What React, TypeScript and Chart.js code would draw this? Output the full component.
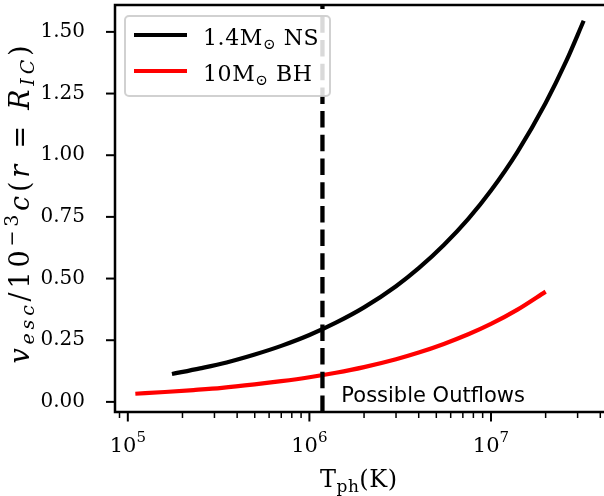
import React, { useEffect, useRef } from 'react';
import { Chart, registerables } from 'chart.js';

Chart.register(...registerables);

// ---- data ----
const nsLabel = '1.4M⊙ NS';
const nsT = [1.75e5, 2.5e5, 3.5e5, 5e5, 7e5, 1e6, 1.4e6, 2e6, 3e6, 4e6, 5.5e6, 7.5e6, 1e7, 1.4e7, 2e7, 2.6e7, 3.24e7];
const nsV = [0.113, 0.136, 0.16, 0.192, 0.227, 0.271, 0.321, 0.383, 0.469, 0.542, 0.636, 0.742, 0.857, 1.014, 1.212, 1.382, 1.545];

const bhLabel = '10M⊙ BH';
const bhT = [1.1e5, 1.6e5, 2.3e5, 3.3e5, 5e5, 7e5, 1e6, 1.4e6, 2e6, 3e6, 4e6, 5.5e6, 7.5e6, 1e7, 1.4e7, 2e7];
const bhV = [0.033, 0.04, 0.048, 0.057, 0.071, 0.084, 0.1, 0.118, 0.141, 0.173, 0.2, 0.235, 0.274, 0.316, 0.374, 0.447];

const outflowT = 1.18e6;
const annotText = 'Possible Outflows';
const annotT = 1.5e6;
const annotV = 0.0;

const xMin = 8.5e4;
const xMax = 4.3e7;
const yMin = -0.041;
const yMax = 1.609;
const yTicks = [0, 0.25, 0.5, 0.75, 1.0, 1.25, 1.5];
const xMajorExps = [5, 6, 7];
const xMinorMantissas = [2, 3, 4, 5, 6, 7, 8, 9];
const xMinorExps = [4, 5, 6, 7];

const legendItems = [
  { pre: '1.4M', sub: '⊙', post: ' NS', color: '#000000' },
  { pre: '10M', sub: '⊙', post: ' BH', color: '#ff0000' },
];

const SERIF = '"DejaVu Serif", serif';

type Piece = { t: string; s: number; it?: boolean; dy?: number };

function fontStr(size: number, italic?: boolean) {
  return `${italic ? 'italic ' : ''}${size}px ${SERIF}`;
}

function richWidth(ctx: CanvasRenderingContext2D, pieces: Piece[], spacing: number) {
  let w = 0;
  let n = 0;
  for (const p of pieces) {
    ctx.font = fontStr(p.s, p.it);
    for (const ch of p.t) {
      w += ctx.measureText(ch).width;
      n++;
    }
  }
  return w + spacing * (n - 1);
}

function countChars(pieces: Piece[]) {
  let n = 0;
  for (const p of pieces) n += [...p.t].length;
  return n;
}

function drawRich(ctx: CanvasRenderingContext2D, pieces: Piece[], x: number, y: number, spacing: number) {
  let cx = x;
  for (const p of pieces) {
    ctx.font = fontStr(p.s, p.it);
    for (const ch of p.t) {
      ctx.fillText(ch, cx, y + (p.dy || 0));
      cx += ctx.measureText(ch).width + spacing;
    }
  }
}

const decorPlugin = {
  id: 'decor',
  afterDatasetsDraw(chart: any) {
    const { ctx, chartArea: a, scales } = chart;
    const xs = scales.x;
    const ys = scales.y;
    ctx.save();
    ctx.fillStyle = '#000';
    ctx.textAlign = 'left';
    ctx.textBaseline = 'alphabetic';

    // annotation
    ctx.font = '21px "DejaVu Sans", sans-serif';
    ctx.fillText(annotText, xs.getPixelForValue(annotT), ys.getPixelForValue(annotV));

    // legend
    const bx = a.left + 10;
    const by = a.top + 11;
    const bw = 205;
    const bh = 80;
    ctx.beginPath();
    ctx.roundRect(bx, by, bw, bh, 4);
    ctx.fillStyle = 'rgba(255,255,255,0.85)';
    ctx.fill();
    ctx.lineWidth = 2;
    ctx.strokeStyle = 'rgba(204,204,204,0.9)';
    ctx.stroke();
    legendItems.forEach((it, i) => {
      const ry = by + 19 + i * 36;
      ctx.beginPath();
      ctx.moveTo(bx + 9, ry);
      ctx.lineTo(bx + 62, ry);
      ctx.strokeStyle = it.color;
      ctx.lineWidth = 4;
      ctx.lineCap = 'butt';
      ctx.stroke();
      ctx.fillStyle = '#000';
      drawRich(
        ctx,
        [
          { t: it.pre, s: 22 },
          { t: it.sub, s: 15, dy: 4 },
          { t: it.post, s: 22 },
        ],
        bx + 78,
        ry + 10,
        0.6
      );
    });

    // frame
    ctx.strokeStyle = '#000';
    ctx.lineWidth = 2.5;
    ctx.strokeRect(a.left, a.top, a.right - a.left, a.bottom - a.top);

    // y ticks
    ctx.lineWidth = 2;
    for (const v of yTicks) {
      const py = ys.getPixelForValue(v);
      ctx.beginPath();
      ctx.moveTo(a.left, py);
      ctx.lineTo(a.left - 9, py);
      ctx.stroke();
    }

    // x minor ticks
    ctx.lineWidth = 1.5;
    for (const e of xMinorExps) {
      for (const m of xMinorMantissas) {
        const v = m * Math.pow(10, e);
        if (v < xMin || v > xMax) continue;
        const px = xs.getPixelForValue(v);
        ctx.beginPath();
        ctx.moveTo(px, a.bottom);
        ctx.lineTo(px, a.bottom + 6);
        ctx.stroke();
      }
    }
    // x major ticks + labels
    ctx.lineWidth = 2;
    for (const e of xMajorExps) {
      const px = xs.getPixelForValue(Math.pow(10, e));
      ctx.beginPath();
      ctx.moveTo(px, a.bottom);
      ctx.lineTo(px, a.bottom + 9.5);
      ctx.stroke();
      const pieces: Piece[] = [
        { t: '10', s: 21 },
        { t: String(e), s: 15, dy: -10 },
      ];
      const w = richWidth(ctx, pieces, 0);
      drawRich(ctx, pieces, px - w / 2, a.bottom + 40, 0);
    }

    // x title
    const xt: Piece[] = [
      { t: 'T', s: 24 },
      { t: 'ph', s: 17, dy: 5 },
      { t: '(K)', s: 24 },
    ];
    const xtw = richWidth(ctx, xt, 0.5);
    drawRich(ctx, xt, (a.left + a.right) / 2 - xtw / 2 - 2, a.bottom + 75, 0.5);

    // y title (rotated)
    const yt: Piece[] = [
      { t: 'v', s: 27, it: true },
      { t: 'esc', s: 19, it: true, dy: 5 },
      { t: '/10', s: 27 },
      { t: '−3', s: 19, dy: -11 },
      { t: 'c', s: 27, it: true },
      { t: '(', s: 27 },
      { t: 'r', s: 27, it: true },
      { t: ' = ', s: 27 },
      { t: 'R', s: 27, it: true },
      { t: 'IC', s: 19, it: true, dy: 5 },
      { t: ')', s: 27 },
    ];
    const target = 318;
    const nat = richWidth(ctx, yt, 0);
    const sp = Math.max(0, (target - nat) / (countChars(yt) - 1));
    const ytw = richWidth(ctx, yt, sp);
    ctx.save();
    ctx.translate(29, (a.top + a.bottom) / 2 - 4);
    ctx.rotate(-Math.PI / 2);
    drawRich(ctx, yt, -ytw / 2, 0, sp);
    ctx.restore();

    ctx.restore();
  },
};

export default function App() {
  const ref = useRef<HTMLCanvasElement>(null);
  useEffect(() => {
    const canvas = ref.current!;
    const chart = new Chart(canvas, {
      type: 'line',
      data: {
        datasets: [
          {
            label: 'outflow',
            data: [
              { x: outflowT, y: yMin },
              { x: outflowT, y: yMax },
            ],
            borderColor: '#000',
            borderWidth: 4.3,
            borderDash: [16.5, 7.2],
            borderCapStyle: 'butt',
            pointRadius: 0,
            fill: false,
          },
          {
            label: nsLabel,
            data: nsT.map((t, i) => ({ x: t, y: nsV[i] })),
            borderColor: '#000000',
            borderWidth: 4.2,
            borderCapStyle: 'butt',
            cubicInterpolationMode: 'monotone',
            pointRadius: 0,
            fill: false,
          },
          {
            label: bhLabel,
            data: bhT.map((t, i) => ({ x: t, y: bhV[i] })),
            borderColor: '#ff0000',
            borderWidth: 4.2,
            borderCapStyle: 'butt',
            cubicInterpolationMode: 'monotone',
            pointRadius: 0,
            fill: false,
          },
        ],
      },
      options: {
        responsive: false,
        devicePixelRatio: 1,
        animation: false,
        layout: { padding: { top: 5, right: 6, left: 0, bottom: 0 } },
        plugins: { legend: { display: false }, tooltip: { enabled: false } },
        scales: {
          x: {
            type: 'logarithmic',
            min: xMin,
            max: xMax,
            ticks: { display: false },
            grid: { display: false },
            border: { display: false },
            afterFit: (s: any) => {
              s.height = 84;
              s.paddingLeft = 0;
              s.paddingRight = 0;
            },
          },
          y: {
            type: 'linear',
            min: yMin,
            max: yMax,
            afterBuildTicks: (s: any) => {
              s.ticks = yTicks.map((v) => ({ value: v }));
            },
            ticks: {
              font: { family: 'DejaVu Serif', size: 20 },
              color: '#000',
              padding: 22,
              callback: (v: any) => Number(v).toFixed(2),
            },
            grid: { display: false },
            border: { display: false },
            afterFit: (s: any) => {
              s.width = 115;
              s.paddingTop = 0;
              s.paddingBottom = 0;
            },
          },
        },
      } as any,
      plugins: [decorPlugin],
    });
    return () => chart.destroy();
  }, []);
  return (
    <div
      style={{
        position: 'fixed',
        left: 0,
        top: 0,
        width: 604,
        height: 496,
        overflow: 'hidden',
        background: '#fff',
      }}
    >
      <canvas ref={ref} width={612} height={496} style={{ display: 'block', width: 612, height: 496 }} />
    </div>
  );
}
